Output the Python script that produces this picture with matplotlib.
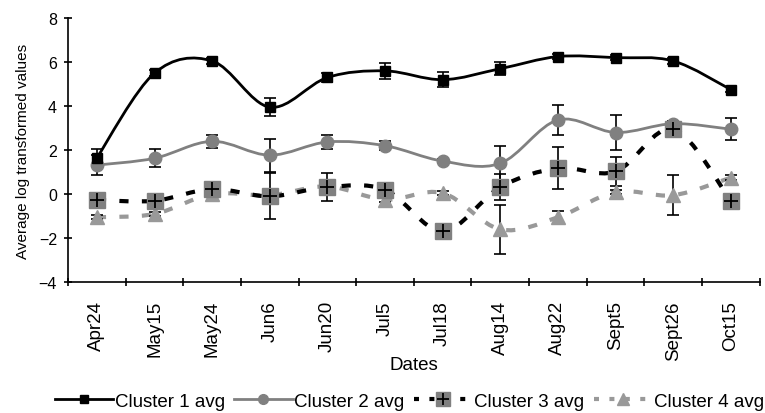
import matplotlib.pyplot as plt
import numpy as np
from matplotlib.path import Path
from matplotlib.patches import PathPatch
from matplotlib.lines import Line2D

plt.rcParams['font.family'] = ['Liberation Sans', 'DejaVu Sans']

dates = ['Apr24', 'May15', 'May24', 'Jun6', 'Jun20', 'Jul5', 'Jul18',
         'Aug14', 'Aug22', 'Sept5', 'Sept26', 'Oct15']

c1 = [1.65, 5.5, 6.05, 3.95, 5.3, 5.6, 5.2, 5.7, 6.25, 6.2, 6.05, 4.75]
c1_err = [0.4, 0.15, 0.15, 0.4, 0.2, 0.35, 0.35, 0.3, 0.1, 0.1, 0.15, 0.1]

c2 = [1.32, 1.63, 2.4, 1.77, 2.37, 2.2, 1.5, 1.4, 3.37, 2.8, 3.2, 2.95]
c2_err = [0.45, 0.42, 0.3, 0.75, 0.3, 0.2, 0.1, 0.8, 0.7, 0.78, 0.1, 0.5]

c3 = [-0.27, -0.3, 0.23, -0.1, 0.32, 0.2, -1.68, 0.32, 1.18, 1.03, 2.95, -0.3]
c3_err = [0.1, 0.1, 0.1, 1.05, 0.63, 0.1, 0.1, 0.6, 0.95, 0.65, 0.1, 0.1]

c4 = [-1.05, -0.9, 0.0, -0.05, 0.35, -0.25, 0.05, -1.6, -1.05, 0.1, -0.05, 0.75]
c4_err = [0.1, 0.1, 0.1, 0.1, 0.1, 0.1, 0.1, 1.1, 0.3, 0.1, 0.9, 0.1]

x = np.arange(len(dates))


def smooth_path(xs, ys):
    # Excel-like smoothed line as cubic bezier segments through the points
    pts = np.column_stack([xs, ys]).astype(float)
    verts = [pts[0]]
    codes = [Path.MOVETO]
    n = len(pts)
    for i in range(n - 1):
        p0 = pts[i - 1] if i > 0 else pts[i]
        p1 = pts[i]
        p2 = pts[i + 1]
        p3 = pts[i + 2] if i + 2 < n else pts[i + 1]
        verts += [p1 + (p2 - p0) / 6, p2 - (p3 - p1) / 6, p2]
        codes += [Path.CURVE4] * 3
    return Path(verts, codes)


fig = plt.figure(figsize=(7.65, 4.14), dpi=100)
ax = fig.add_axes([0.089, 0.316, 0.904, 0.638])

gray = '#808080'
ltgray = '#999999'

ax.add_patch(PathPatch(smooth_path(x, c4), fill=False, ec=ltgray, lw=3,
                       linestyle=(0, (2.2, 3.2)), zorder=2))
ax.add_patch(PathPatch(smooth_path(x, c3), fill=False, ec='black', lw=3,
                       linestyle=(0, (2.2, 3.2)), zorder=2))
ax.add_patch(PathPatch(smooth_path(x, c2), fill=False, ec=gray, lw=2, zorder=2))
ax.add_patch(PathPatch(smooth_path(x, c1), fill=False, ec='black', lw=2, zorder=2))

for y, e in [(c4, c4_err), (c3, c3_err), (c2, c2_err), (c1, c1_err)]:
    ax.errorbar(x, y, yerr=e, fmt='none', ecolor='black', elinewidth=1.2,
                capsize=4, capthick=1.2, zorder=3)

ax.plot(x, c4, ls='none', marker='^', ms=10, color=ltgray, zorder=4)
ax.plot(x, c3, ls='none', marker='s', ms=11, color=gray, zorder=4)
ax.plot(x, c3, ls='none', marker='+', ms=10, mew=1.3, color='black', zorder=5)
ax.plot(x, c2, ls='none', marker='o', ms=9, color=gray, zorder=4)
ax.plot(x, c1, ls='none', marker='s', ms=7, color='black', zorder=4)

ax.set_xlim(-0.5, len(dates) - 0.5)
ax.set_ylim(-4, 8)
ax.set_yticks(range(-4, 9, 2))
ax.set_xticks(x)
ax.set_xticklabels(dates, rotation=90, fontsize=13.5)
ax.set_xticks(np.arange(-0.5, len(dates), 1), minor=True)
ax.tick_params(axis='x', which='major', length=0, pad=13)
ax.tick_params(axis='x', which='minor', length=6, width=1.2, direction='inout')
ax.tick_params(axis='y', length=6, width=1.2, direction='inout', labelsize=11.5,
               pad=5)
for s in ['top', 'right']:
    ax.spines[s].set_visible(False)
for s in ['left', 'bottom']:
    ax.spines[s].set_linewidth(1.2)

ax.set_ylabel('Average log transformed values', fontsize=11, labelpad=6)
ax.set_xlabel('Dates', fontsize=13.5, labelpad=-3)

h1 = Line2D([], [], color='black', lw=2, marker='s', ms=6)
h2 = Line2D([], [], color=gray, lw=2, marker='o', ms=7)
h3a = Line2D([], [], color='black', lw=3, ls=(0, (1.2, 2.5)))
h3b = Line2D([], [], ls='none', marker='s', ms=10, color=gray)
h3c = Line2D([], [], ls='none', marker='+', ms=9, mew=1.3, color='black')
h4a = Line2D([], [], color=ltgray, lw=3, ls=(0, (1.2, 2.5)))
h4b = Line2D([], [], ls='none', marker='^', ms=8, color=ltgray)
fig.legend([h1, h2, (h3a, h3b, h3c), (h4a, h4b)],
           ['Cluster 1 avg', 'Cluster 2 avg', 'Cluster 3 avg', 'Cluster 4 avg'],
           loc='center', bbox_to_anchor=(0.535, 0.029), ncol=4, frameon=False,
           fontsize=13.5, handlelength=3.1, handletextpad=0.1, columnspacing=0.5)

fig.savefig('out.png', dpi=100)
